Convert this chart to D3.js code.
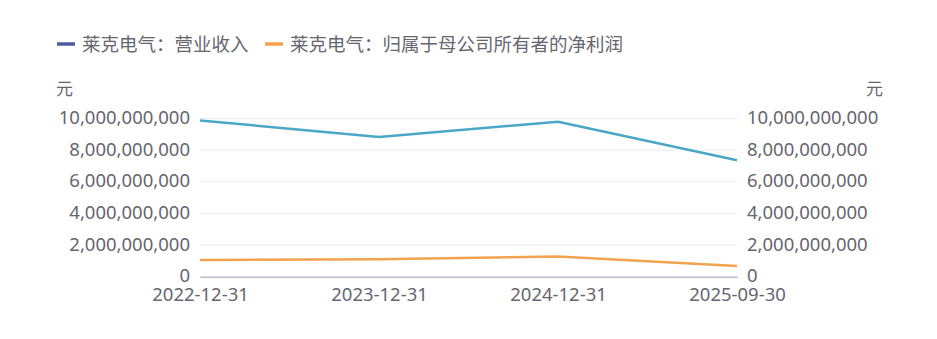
<!DOCTYPE html>
<html>
<head>
<meta charset="utf-8">
<script src="https://cdn.jsdelivr.net/npm/d3@7"></script>
<style>
  body { margin: 0; background: #fff; }
  text { font-family: "Noto Sans", "Noto Sans CJK SC", sans-serif; }
</style>
</head>
<body>
<div class="plot"></div>
<script>
// chart data
var dates = ["2022-12-31", "2023-12-31", "2024-12-31", "2025-09-30"];
var revenue = [9880000000, 8830000000, 9800000000, 7360000000];
var netProfit = [1060000000, 1100000000, 1280000000, 670000000];
var seriesNames = ["莱克电气：营业收入", "莱克电气：归属于母公司所有者的净利润"];
var yTicks = [0, 2000000000, 4000000000, 6000000000, 8000000000, 10000000000];
var unitLabel = "元";

var svgWidth = 937;
var svgHeight = 339;

var margin = { top: 118.5, right: 200, bottom: 62.3, left: 200 };
var width = svgWidth - margin.left - margin.right;
var height = svgHeight - margin.top - margin.bottom;

var textColor = "#66666f";
var fontSize = "18.5px";
var colors = ["#4aa8c6", "#f3a24f"];
var legendColors = ["#4e5aa3", "#f3a24f"];

var svg = d3.select(".plot")
    .append("svg")
    .attr("width", svgWidth)
    .attr("height", svgHeight);

var chartGroup = svg.append("g")
    .attr("transform", `translate(${margin.left}, ${margin.top})`);

// scales
var xScale = d3.scalePoint()
    .domain(dates)
    .range([0, width]);

var yScale = d3.scaleLinear()
    .domain([0, 10000000000])
    .range([height, 0]);

var fmt = d3.format(",");

// gridlines
chartGroup.selectAll(".grid")
    .data(yTicks.filter(d => d > 0))
    .enter()
    .append("line")
    .attr("x1", 0)
    .attr("x2", width)
    .attr("y1", d => yScale(d))
    .attr("y2", d => yScale(d))
    .attr("stroke", "#eaecf3")
    .attr("stroke-width", 1);

// left axis
var yAxisLeft = d3.axisLeft(yScale).tickValues(yTicks).tickFormat(fmt).tickSize(0).tickPadding(10);
var gl = chartGroup.append("g").call(yAxisLeft);
gl.select(".domain").remove();
gl.selectAll("text")
    .attr("fill", textColor)
    .attr("dy", "0.27em")
    .style("font-size", fontSize);

// right axis
var yAxisRight = d3.axisRight(yScale).tickValues(yTicks).tickFormat(fmt).tickSize(0).tickPadding(10);
var gr = chartGroup.append("g")
    .attr("transform", `translate(${width}, 0)`)
    .call(yAxisRight);
gr.select(".domain").remove();
gr.selectAll("text")
    .attr("fill", textColor)
    .attr("dy", "0.27em")
    .style("font-size", fontSize);

// bottom axis
var xAxis = d3.axisBottom(xScale).tickSize(0).tickPadding(11);
var gx = chartGroup.append("g")
    .attr("transform", `translate(0, ${height})`)
    .call(xAxis);
gx.select(".domain").attr("stroke", "#b9b8cc").attr("stroke-width", 1.5);
gx.selectAll("text")
    .attr("fill", textColor)
    .style("font-size", fontSize);

// unit labels
svg.append("text")
    .attr("x", 56)
    .attr("y", 95)
    .attr("fill", textColor)
    .style("font-size", "17px")
    .text(unitLabel);

svg.append("text")
    .attr("x", 883)
    .attr("y", 95)
    .attr("text-anchor", "end")
    .attr("fill", textColor)
    .style("font-size", "17px")
    .text(unitLabel);

// lines
var line = d3.line()
    .x((d, i) => xScale(dates[i]))
    .y(d => yScale(d));

[revenue, netProfit].forEach(function (values, i) {
    chartGroup.append("path")
        .datum(values)
        .attr("d", line)
        .attr("fill", "none")
        .attr("stroke", colors[i])
        .attr("stroke-width", 2.5)
        .attr("stroke-linejoin", "round");
});

// legend
var legendX = [57, 265];
seriesNames.forEach(function (name, i) {
    svg.append("line")
        .attr("x1", legendX[i])
        .attr("x2", legendX[i] + 18)
        .attr("y1", 44)
        .attr("y2", 44)
        .attr("stroke", legendColors[i])
        .attr("stroke-width", 3.5);
    svg.append("text")
        .attr("x", legendX[i] + 25)
        .attr("y", 51)
        .attr("fill", textColor)
        .style("font-size", fontSize)
        .text(name);
});
</script>
</body>
</html>
